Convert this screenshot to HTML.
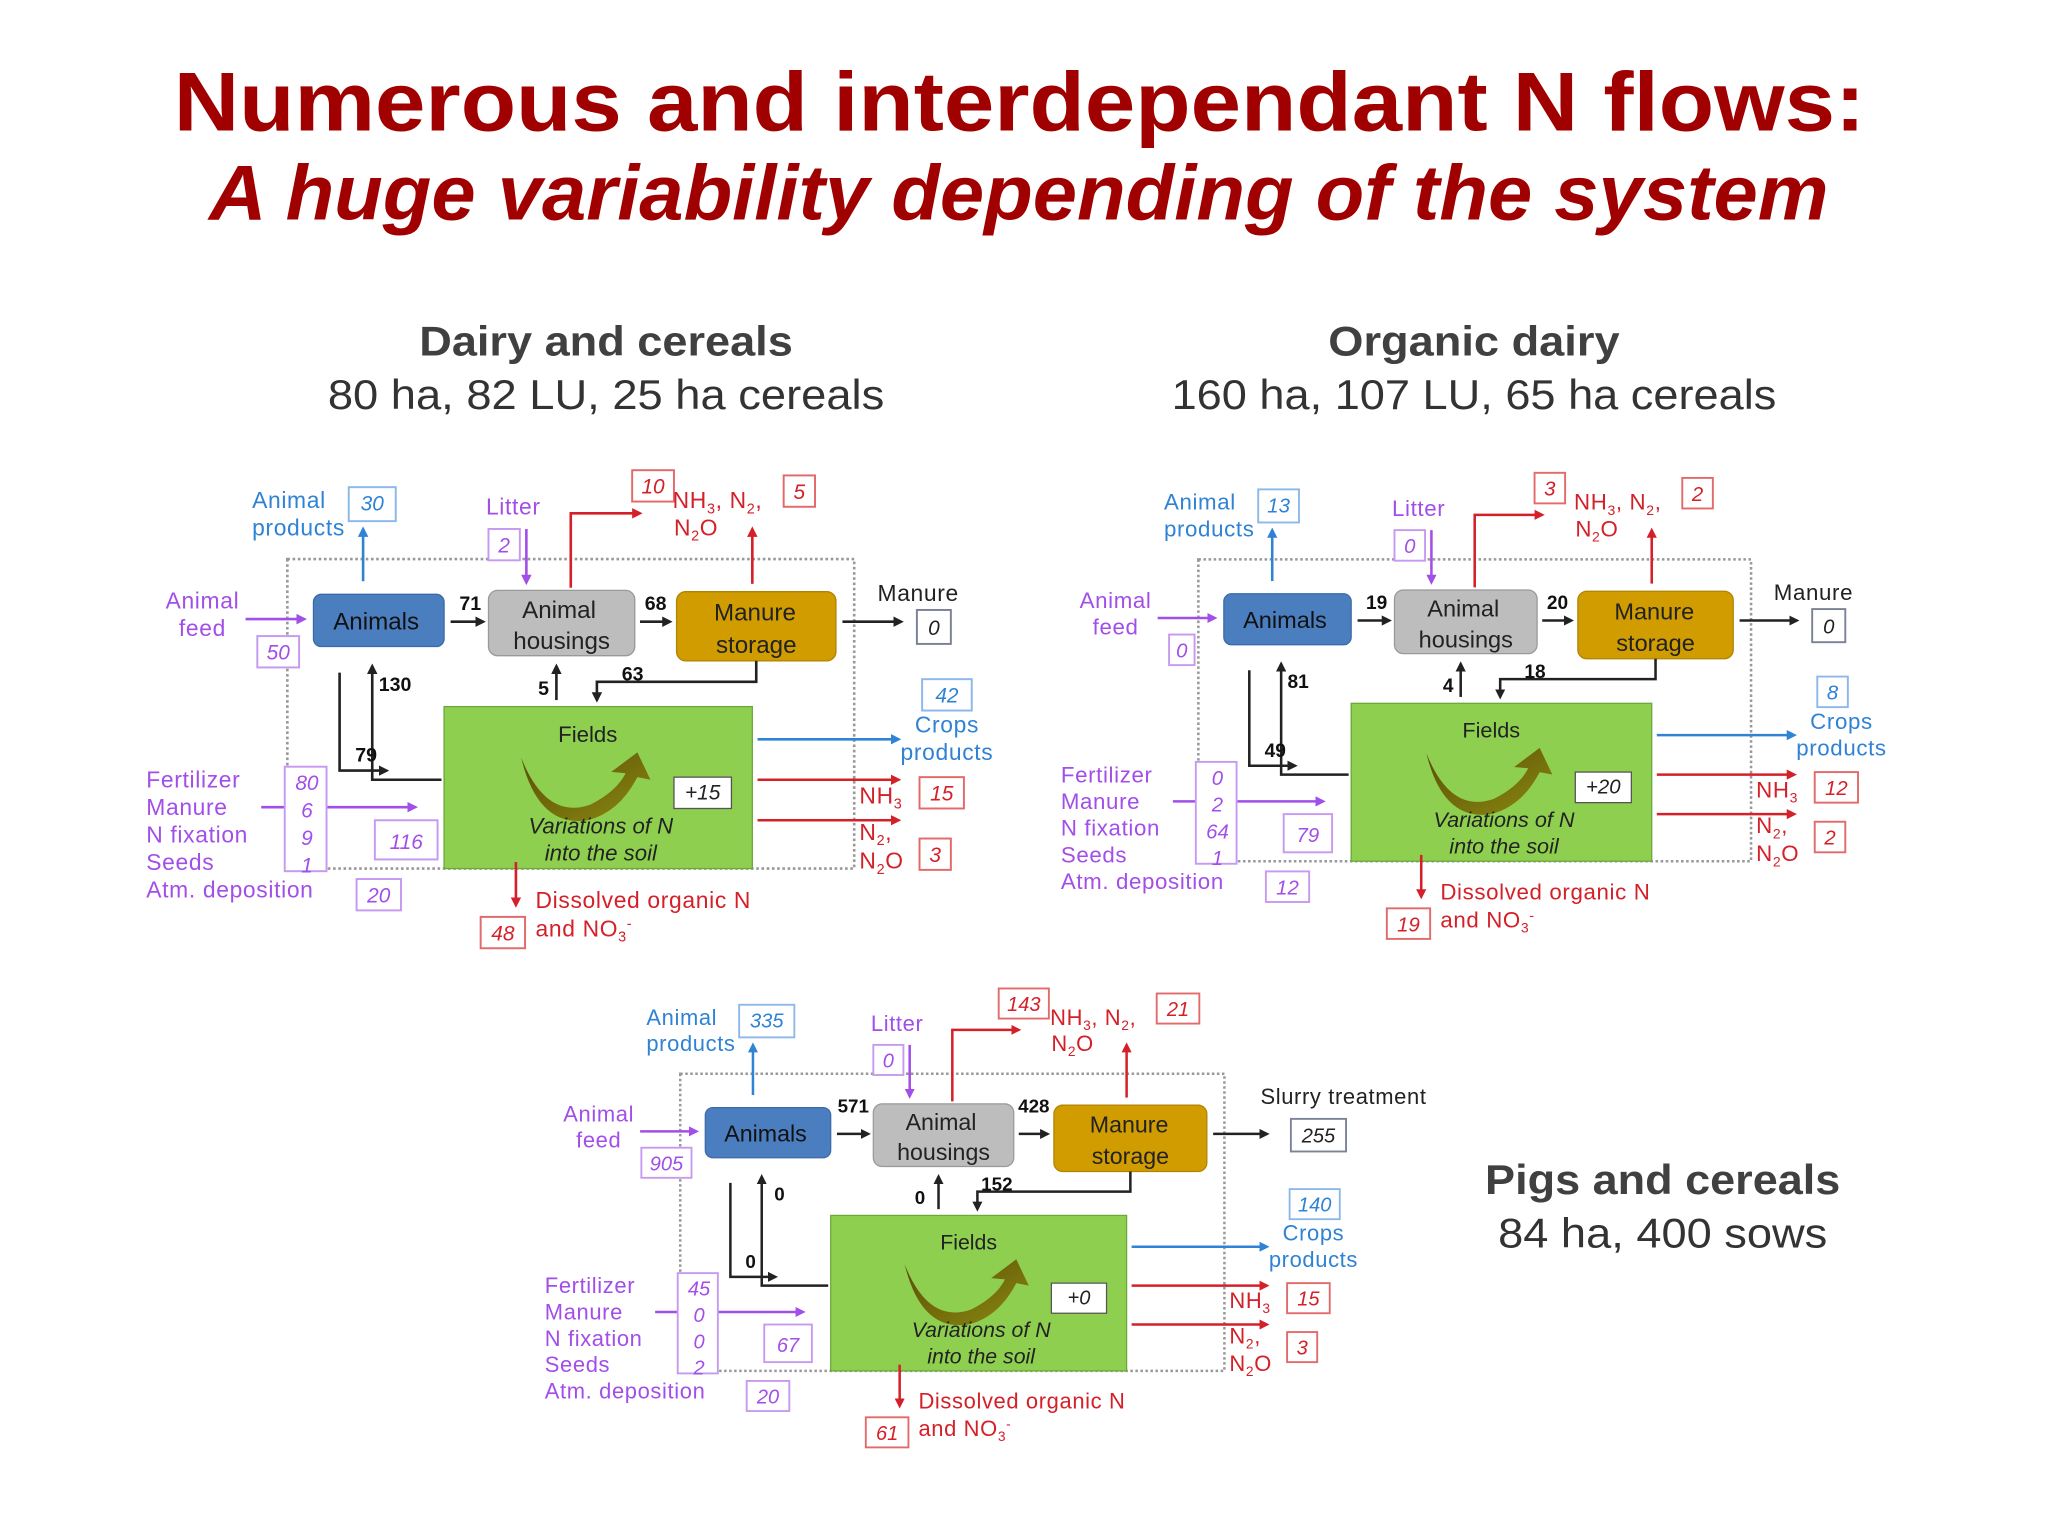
<!DOCTYPE html>
<html><head><meta charset="utf-8"><style>
html,body{margin:0;padding:0;background:#fff;}
svg{display:block;font-family:"Liberation Sans",sans-serif;}
.pu{fill:#a24ee8}.bl{fill:#2f82d4}.rd{fill:#d42028}.bk{fill:#222}
.n{font-style:italic;font-size:16px;text-anchor:middle}
.lb{font-size:17.5px;letter-spacing:0.5px}
.bn{font-weight:bold;font-size:15px;fill:#111}
.bpu{fill:#fff;stroke:#c79af2;stroke-width:1.5}
.bbl{fill:#fff;stroke:#8db8ea;stroke-width:1.5}
.brd{fill:#fff;stroke:#e36a6a;stroke-width:1.5}
.bbk{fill:#fff;stroke:#7c8296;stroke-width:1.5}
</style></head><body>
<svg width="2048" height="1536" viewBox="0 0 1568 1176" xmlns="http://www.w3.org/2000/svg">
<defs>
<marker id="mk" markerWidth="8" markerHeight="8" refX="6" refY="4" orient="auto" markerUnits="userSpaceOnUse"><path d="M0,0 L8,4 L0,8 Z" fill="#222"/></marker>
<marker id="mr" markerWidth="8" markerHeight="8" refX="6" refY="4" orient="auto" markerUnits="userSpaceOnUse"><path d="M0,0 L8,4 L0,8 Z" fill="#d42028"/></marker>
<marker id="mb" markerWidth="8" markerHeight="8" refX="6" refY="4" orient="auto" markerUnits="userSpaceOnUse"><path d="M0,0 L8,4 L0,8 Z" fill="#2f82d4"/></marker>
<marker id="mp" markerWidth="8" markerHeight="8" refX="6" refY="4" orient="auto" markerUnits="userSpaceOnUse"><path d="M0,0 L8,4 L0,8 Z" fill="#a24ee8"/></marker>
<linearGradient id="gg" x1="0" y1="0" x2="1" y2="1"><stop offset="0" stop-color="#5a4a08"/><stop offset="1" stop-color="#8a8a10"/></linearGradient>
</defs>

<text x="133" y="100" textLength="1295" lengthAdjust="spacingAndGlyphs" font-size="64" font-weight="bold" fill="#a00000">Numerous and interdependant N flows:</text>
<text x="160" y="168" textLength="1240" lengthAdjust="spacingAndGlyphs" font-size="60" font-weight="bold" font-style="italic" fill="#a00000">A huge variability depending of the system</text>

<text x="321" y="272" textLength="286" lengthAdjust="spacingAndGlyphs" font-size="32" font-weight="bold" fill="#404040">Dairy and cereals</text>
<text x="251" y="313" textLength="426" lengthAdjust="spacingAndGlyphs" font-size="32" fill="#333">80 ha, 82 LU, 25 ha cereals</text>
<text x="1017" y="272" textLength="223" lengthAdjust="spacingAndGlyphs" font-size="32" font-weight="bold" fill="#404040">Organic dairy</text>
<text x="897" y="313" textLength="463" lengthAdjust="spacingAndGlyphs" font-size="32" fill="#333">160 ha, 107 LU, 65 ha cereals</text>
<text x="1137" y="914" textLength="272" lengthAdjust="spacingAndGlyphs" font-size="32" font-weight="bold" fill="#404040">Pigs and cereals</text>
<text x="1147" y="955" textLength="252" lengthAdjust="spacingAndGlyphs" font-size="32" fill="#333">84 ha, 400 sows</text>

<!-- ========== DIAGRAM 1 ========== -->
<g>
<rect x="220" y="428" width="434" height="237" fill="none" stroke="#999" stroke-width="2" stroke-dasharray="2,2"/>
<rect x="340" y="541" width="236" height="124" fill="#8fcf4f" stroke="#6aa83a" stroke-width="1"/>
<text x="450" y="568" text-anchor="middle" font-size="17" fill="#222">Fields</text>
<path d="M399,580 Q418,628 452,616 Q472,606 479,592 L468,591 L488,576 L498,597 L488,595 Q474,622 450,628 Q412,634 399,580 Z" fill="url(#gg)"/>
<rect x="516" y="595" width="44" height="24" fill="#fff" stroke="#555"/>
<text x="538" y="612" class="n" fill="#222" font-size="14">+15</text>
<text x="460" y="638" text-anchor="middle" font-size="17" font-style="italic" fill="#222">Variations of N</text>
<text x="460" y="659" text-anchor="middle" font-size="17" font-style="italic" fill="#222">into the soil</text>

<rect x="240" y="455" width="100" height="40" rx="6" fill="#4a7ebf" stroke="#3b6aa8"/>
<text x="288" y="482" text-anchor="middle" font-size="18.5" fill="#111">Animals</text>
<rect x="374" y="452" width="112" height="50" rx="7" fill="#bdbdbd" stroke="#999"/>
<text x="428" y="473" text-anchor="middle" font-size="18.5" fill="#222">Animal</text>
<text x="430" y="497" text-anchor="middle" font-size="18.5" fill="#222">housings</text>
<rect x="518" y="453" width="122" height="53" rx="7" fill="#d09c00" stroke="#b08400"/>
<text x="578" y="475" text-anchor="middle" font-size="18.5" fill="#222">Manure</text>
<text x="579" y="500" text-anchor="middle" font-size="18.5" fill="#222">storage</text>

<line x1="345" y1="476" x2="370" y2="476" stroke="#222" stroke-width="2" marker-end="url(#mk)"/>
<text x="360" y="467" text-anchor="middle" class="bn">71</text>
<line x1="490" y1="476" x2="513" y2="476" stroke="#222" stroke-width="2" marker-end="url(#mk)"/>
<text x="502" y="467" text-anchor="middle" class="bn">68</text>
<line x1="645" y1="476" x2="690" y2="476" stroke="#222" stroke-width="2" marker-end="url(#mk)"/>
<text x="703" y="460" text-anchor="middle" class="lb bk">Manure</text>
<rect x="702" y="467" width="26" height="26" class="bbk"/><text x="715" y="486" class="n bk">0</text>

<text x="155" y="466" text-anchor="middle" class="lb pu">Animal</text>
<text x="155" y="487" text-anchor="middle" class="lb pu">feed</text>
<line x1="188" y1="474" x2="233" y2="474" stroke="#a24ee8" stroke-width="2" marker-end="url(#mp)"/>
<rect x="197" y="487" width="32" height="24" class="bpu"/><text x="213" y="505" class="n pu">50</text>

<text x="193" y="389" class="lb bl">Animal</text>
<text x="193" y="410" class="lb bl">products</text>
<rect x="267" y="373" width="36" height="26" class="bbl"/><text x="285" y="391" class="n bl">30</text>
<line x1="278" y1="445" x2="278" y2="405" stroke="#2f82d4" stroke-width="2" marker-end="url(#mb)"/>

<text x="393" y="394" text-anchor="middle" class="lb pu">Litter</text>
<rect x="374" y="405" width="24" height="24" class="bpu"/><text x="386" y="423" class="n pu">2</text>
<line x1="403" y1="405" x2="403" y2="446" stroke="#a24ee8" stroke-width="2" marker-end="url(#mp)"/>

<polyline points="437,450 437,393 490,393" fill="none" stroke="#d42028" stroke-width="2" marker-end="url(#mr)"/>
<rect x="484" y="360" width="32" height="24" class="brd"/><text x="500" y="378" class="n rd">10</text>
<text x="515" y="389" class="lb rd">NH<tspan font-size="11" dy="4">3</tspan><tspan dy="-4">, N</tspan><tspan font-size="11" dy="4">2</tspan><tspan dy="-4">,</tspan></text>
<text x="516" y="410" class="lb rd">N<tspan font-size="11" dy="4">2</tspan><tspan dy="-4">O</tspan></text>
<rect x="600" y="364" width="24" height="24" class="brd"/><text x="612" y="382" class="n rd">5</text>
<line x1="576" y1="447" x2="576" y2="405" stroke="#d42028" stroke-width="2" marker-end="url(#mr)"/>

<polyline points="338,597 285,597 285,510" fill="none" stroke="#222" stroke-width="2" marker-end="url(#mk)"/>
<text x="290" y="529" class="bn">130</text>
<polyline points="260,515 260,590 296,590" fill="none" stroke="#222" stroke-width="2" marker-end="url(#mk)"/>
<text x="272" y="583" class="bn">79</text>
<line x1="426" y1="536" x2="426" y2="510" stroke="#222" stroke-width="2" marker-end="url(#mk)"/>
<text x="412" y="532" class="bn">5</text>
<polyline points="579,506 579,522 457,522 457,536" fill="none" stroke="#222" stroke-width="2" marker-end="url(#mk)"/>
<text x="476" y="521" class="bn">63</text>

<line x1="580" y1="566" x2="688" y2="566" stroke="#2f82d4" stroke-width="2" marker-end="url(#mb)"/>
<rect x="706" y="520" width="38" height="24" class="bbl"/><text x="725" y="538" class="n bl">42</text>
<text x="725" y="561" text-anchor="middle" class="lb bl">Crops</text>
<text x="725" y="582" text-anchor="middle" class="lb bl">products</text>

<line x1="580" y1="597" x2="688" y2="597" stroke="#d42028" stroke-width="2" marker-end="url(#mr)"/>
<text x="658" y="615" class="lb rd">NH<tspan font-size="11" dy="4">3</tspan></text>
<rect x="704" y="595" width="34" height="24" class="brd"/><text x="721" y="613" class="n rd">15</text>
<line x1="580" y1="628" x2="688" y2="628" stroke="#d42028" stroke-width="2" marker-end="url(#mr)"/>
<text x="658" y="643" class="lb rd">N<tspan font-size="11" dy="4">2</tspan><tspan dy="-4">,</tspan></text>
<text x="658" y="665" class="lb rd">N<tspan font-size="11" dy="4">2</tspan><tspan dy="-4">O</tspan></text>
<rect x="704" y="642" width="24" height="24" class="brd"/><text x="716" y="660" class="n rd">3</text>

<line x1="395" y1="660" x2="395" y2="693" stroke="#d42028" stroke-width="2" marker-end="url(#mr)"/>
<text x="410" y="695" class="lb rd">Dissolved organic N</text>
<text x="410" y="717" class="lb rd">and NO<tspan font-size="11" dy="4">3</tspan><tspan font-size="11" dy="-10">-</tspan></text>
<rect x="368" y="702" width="34" height="24" class="brd"/><text x="385" y="720" class="n rd">48</text>

<text x="112" y="603" class="lb pu">Fertilizer</text>
<text x="112" y="624" class="lb pu">Manure</text>
<text x="112" y="645" class="lb pu">N fixation</text>
<text x="112" y="666" class="lb pu">Seeds</text>
<text x="112" y="687" class="lb pu">Atm. deposition</text>
<line x1="200" y1="618" x2="318" y2="618" stroke="#a24ee8" stroke-width="2" marker-end="url(#mp)"/>
<rect x="218" y="587" width="32" height="80" class="bpu"/>
<text x="235" y="605" class="n pu">80</text><text x="235" y="626" class="n pu">6</text><text x="235" y="647" class="n pu">9</text><text x="235" y="668" class="n pu">1</text>
<rect x="287" y="628" width="48" height="30" class="bpu"/><text x="311" y="650" class="n pu" font-size="19">116</text>
<rect x="273" y="673" width="34" height="24" class="bpu"/><text x="290" y="691" class="n pu">20</text>
</g>

<!-- ========== DIAGRAM 2 ========== -->
<g transform="translate(703,11) scale(0.975)">
<rect x="220" y="428" width="434" height="237" fill="none" stroke="#999" stroke-width="2" stroke-dasharray="2,2"/>
<rect x="340" y="541" width="236" height="124" fill="#8fcf4f" stroke="#6aa83a" stroke-width="1"/>
<text x="450" y="568" text-anchor="middle" font-size="17" fill="#222">Fields</text>
<path d="M399,580 Q418,628 452,616 Q472,606 479,592 L468,591 L488,576 L498,597 L488,595 Q474,622 450,628 Q412,634 399,580 Z" fill="url(#gg)"/>
<rect x="516" y="595" width="44" height="24" fill="#fff" stroke="#555"/>
<text x="538" y="612" class="n" fill="#222" font-size="14">+20</text>
<text x="460" y="638" text-anchor="middle" font-size="17" font-style="italic" fill="#222">Variations of N</text>
<text x="460" y="659" text-anchor="middle" font-size="17" font-style="italic" fill="#222">into the soil</text>

<rect x="240" y="455" width="100" height="40" rx="6" fill="#4a7ebf" stroke="#3b6aa8"/>
<text x="288" y="482" text-anchor="middle" font-size="18.5" fill="#111">Animals</text>
<rect x="374" y="452" width="112" height="50" rx="7" fill="#bdbdbd" stroke="#999"/>
<text x="428" y="473" text-anchor="middle" font-size="18.5" fill="#222">Animal</text>
<text x="430" y="497" text-anchor="middle" font-size="18.5" fill="#222">housings</text>
<rect x="518" y="453" width="122" height="53" rx="7" fill="#d09c00" stroke="#b08400"/>
<text x="578" y="475" text-anchor="middle" font-size="18.5" fill="#222">Manure</text>
<text x="579" y="500" text-anchor="middle" font-size="18.5" fill="#222">storage</text>

<line x1="345" y1="476" x2="370" y2="476" stroke="#222" stroke-width="2" marker-end="url(#mk)"/>
<text x="360" y="467" text-anchor="middle" class="bn">19</text>
<line x1="490" y1="476" x2="513" y2="476" stroke="#222" stroke-width="2" marker-end="url(#mk)"/>
<text x="502" y="467" text-anchor="middle" class="bn">20</text>
<line x1="645" y1="476" x2="690" y2="476" stroke="#222" stroke-width="2" marker-end="url(#mk)"/>
<text x="703" y="460" text-anchor="middle" class="lb bk">Manure</text>
<rect x="702" y="467" width="26" height="26" class="bbk"/><text x="715" y="486" class="n bk">0</text>

<text x="155" y="466" text-anchor="middle" class="lb pu">Animal</text>
<text x="155" y="487" text-anchor="middle" class="lb pu">feed</text>
<line x1="188" y1="474" x2="233" y2="474" stroke="#a24ee8" stroke-width="2" marker-end="url(#mp)"/>
<rect x="197" y="487" width="20" height="24" class="bpu"/><text x="207" y="505" class="n pu">0</text>

<text x="193" y="389" class="lb bl">Animal</text>
<text x="193" y="410" class="lb bl">products</text>
<rect x="267" y="373" width="32" height="26" class="bbl"/><text x="283" y="391" class="n bl">13</text>
<line x1="278" y1="445" x2="278" y2="405" stroke="#2f82d4" stroke-width="2" marker-end="url(#mb)"/>

<text x="393" y="394" text-anchor="middle" class="lb pu">Litter</text>
<rect x="374" y="405" width="24" height="24" class="bpu"/><text x="386" y="423" class="n pu">0</text>
<line x1="403" y1="405" x2="403" y2="446" stroke="#a24ee8" stroke-width="2" marker-end="url(#mp)"/>

<polyline points="437,450 437,393 490,393" fill="none" stroke="#d42028" stroke-width="2" marker-end="url(#mr)"/>
<rect x="484" y="360" width="24" height="24" class="brd"/><text x="496" y="378" class="n rd">3</text>
<text x="515" y="389" class="lb rd">NH<tspan font-size="11" dy="4">3</tspan><tspan dy="-4">, N</tspan><tspan font-size="11" dy="4">2</tspan><tspan dy="-4">,</tspan></text>
<text x="516" y="410" class="lb rd">N<tspan font-size="11" dy="4">2</tspan><tspan dy="-4">O</tspan></text>
<rect x="600" y="364" width="24" height="24" class="brd"/><text x="612" y="382" class="n rd">2</text>
<line x1="576" y1="447" x2="576" y2="405" stroke="#d42028" stroke-width="2" marker-end="url(#mr)"/>

<polyline points="338,597 285,597 285,510" fill="none" stroke="#222" stroke-width="2" marker-end="url(#mk)"/>
<text x="290" y="529" class="bn">81</text>
<polyline points="260,515 260,590 296,590" fill="none" stroke="#222" stroke-width="2" marker-end="url(#mk)"/>
<text x="272" y="583" class="bn">49</text>
<line x1="426" y1="536" x2="426" y2="510" stroke="#222" stroke-width="2" marker-end="url(#mk)"/>
<text x="412" y="532" class="bn">4</text>
<polyline points="579,506 579,522 457,522 457,536" fill="none" stroke="#222" stroke-width="2" marker-end="url(#mk)"/>
<text x="476" y="521" class="bn">18</text>

<line x1="580" y1="566" x2="688" y2="566" stroke="#2f82d4" stroke-width="2" marker-end="url(#mb)"/>
<rect x="706" y="520" width="24" height="24" class="bbl"/><text x="718" y="538" class="n bl">8</text>
<text x="725" y="561" text-anchor="middle" class="lb bl">Crops</text>
<text x="725" y="582" text-anchor="middle" class="lb bl">products</text>

<line x1="580" y1="597" x2="688" y2="597" stroke="#d42028" stroke-width="2" marker-end="url(#mr)"/>
<text x="658" y="615" class="lb rd">NH<tspan font-size="11" dy="4">3</tspan></text>
<rect x="704" y="595" width="34" height="24" class="brd"/><text x="721" y="613" class="n rd">12</text>
<line x1="580" y1="628" x2="688" y2="628" stroke="#d42028" stroke-width="2" marker-end="url(#mr)"/>
<text x="658" y="643" class="lb rd">N<tspan font-size="11" dy="4">2</tspan><tspan dy="-4">,</tspan></text>
<text x="658" y="665" class="lb rd">N<tspan font-size="11" dy="4">2</tspan><tspan dy="-4">O</tspan></text>
<rect x="704" y="634" width="24" height="24" class="brd"/><text x="716" y="652" class="n rd">2</text>

<line x1="395" y1="660" x2="395" y2="693" stroke="#d42028" stroke-width="2" marker-end="url(#mr)"/>
<text x="410" y="695" class="lb rd">Dissolved organic N</text>
<text x="410" y="717" class="lb rd">and NO<tspan font-size="11" dy="4">3</tspan><tspan font-size="11" dy="-10">-</tspan></text>
<rect x="368" y="702" width="34" height="24" class="brd"/><text x="385" y="720" class="n rd">19</text>

<text x="112" y="603" class="lb pu">Fertilizer</text>
<text x="112" y="624" class="lb pu">Manure</text>
<text x="112" y="645" class="lb pu">N fixation</text>
<text x="112" y="666" class="lb pu">Seeds</text>
<text x="112" y="687" class="lb pu">Atm. deposition</text>
<line x1="200" y1="618" x2="318" y2="618" stroke="#a24ee8" stroke-width="2" marker-end="url(#mp)"/>
<rect x="218" y="587" width="32" height="80" class="bpu"/>
<text x="235" y="605" class="n pu">0</text><text x="235" y="626" class="n pu">2</text><text x="235" y="647" class="n pu">64</text><text x="235" y="668" class="n pu">1</text>
<rect x="287" y="628" width="38" height="30" class="bpu"/><text x="306" y="650" class="n pu" font-size="19">79</text>
<rect x="273" y="673" width="34" height="24" class="bpu"/><text x="290" y="691" class="n pu">12</text>
</g>

<!-- ========== DIAGRAM 3 ========== -->
<g transform="translate(309.6,411.2) scale(0.96)">
<rect x="220" y="428" width="434" height="237" fill="none" stroke="#999" stroke-width="2" stroke-dasharray="2,2"/>
<rect x="340" y="541" width="236" height="124" fill="#8fcf4f" stroke="#6aa83a" stroke-width="1"/>
<text x="450" y="568" text-anchor="middle" font-size="17" fill="#222">Fields</text>
<path d="M399,580 Q418,628 452,616 Q472,606 479,592 L468,591 L488,576 L498,597 L488,595 Q474,622 450,628 Q412,634 399,580 Z" fill="url(#gg)"/>
<rect x="516" y="595" width="44" height="24" fill="#fff" stroke="#555"/>
<text x="538" y="612" class="n" fill="#222" font-size="14">+0</text>
<text x="460" y="638" text-anchor="middle" font-size="17" font-style="italic" fill="#222">Variations of N</text>
<text x="460" y="659" text-anchor="middle" font-size="17" font-style="italic" fill="#222">into the soil</text>

<rect x="240" y="455" width="100" height="40" rx="6" fill="#4a7ebf" stroke="#3b6aa8"/>
<text x="288" y="482" text-anchor="middle" font-size="18.5" fill="#111">Animals</text>
<rect x="374" y="452" width="112" height="50" rx="7" fill="#bdbdbd" stroke="#999"/>
<text x="428" y="473" text-anchor="middle" font-size="18.5" fill="#222">Animal</text>
<text x="430" y="497" text-anchor="middle" font-size="18.5" fill="#222">housings</text>
<rect x="518" y="453" width="122" height="53" rx="7" fill="#d09c00" stroke="#b08400"/>
<text x="578" y="475" text-anchor="middle" font-size="18.5" fill="#222">Manure</text>
<text x="579" y="500" text-anchor="middle" font-size="18.5" fill="#222">storage</text>

<line x1="345" y1="476" x2="370" y2="476" stroke="#222" stroke-width="2" marker-end="url(#mk)"/>
<text x="358" y="459" text-anchor="middle" class="bn">571</text>
<line x1="490" y1="476" x2="513" y2="476" stroke="#222" stroke-width="2" marker-end="url(#mk)"/>
<text x="502" y="459" text-anchor="middle" class="bn">428</text>
<line x1="645" y1="476" x2="688" y2="476" stroke="#222" stroke-width="2" marker-end="url(#mk)"/>
<text x="749" y="452" text-anchor="middle" class="lb bk">Slurry treatment</text>
<rect x="707" y="464" width="44" height="26" class="bbk"/><text x="729" y="483" class="n bk">255</text>

<text x="155" y="466" text-anchor="middle" class="lb pu">Animal</text>
<text x="155" y="487" text-anchor="middle" class="lb pu">feed</text>
<line x1="188" y1="474" x2="233" y2="474" stroke="#a24ee8" stroke-width="2" marker-end="url(#mp)"/>
<rect x="189" y="487" width="40" height="24" class="bpu"/><text x="209" y="505" class="n pu">905</text>

<text x="193" y="389" class="lb bl">Animal</text>
<text x="193" y="410" class="lb bl">products</text>
<rect x="267" y="373" width="44" height="26" class="bbl"/><text x="289" y="391" class="n bl">335</text>
<line x1="278" y1="445" x2="278" y2="405" stroke="#2f82d4" stroke-width="2" marker-end="url(#mb)"/>

<text x="393" y="394" text-anchor="middle" class="lb pu">Litter</text>
<rect x="374" y="405" width="24" height="24" class="bpu"/><text x="386" y="423" class="n pu">0</text>
<line x1="403" y1="405" x2="403" y2="446" stroke="#a24ee8" stroke-width="2" marker-end="url(#mp)"/>

<polyline points="437,450 437,393 490,393" fill="none" stroke="#d42028" stroke-width="2" marker-end="url(#mr)"/>
<rect x="474" y="360" width="40" height="24" class="brd"/><text x="494" y="378" class="n rd">143</text>
<text x="515" y="389" class="lb rd">NH<tspan font-size="11" dy="4">3</tspan><tspan dy="-4">, N</tspan><tspan font-size="11" dy="4">2</tspan><tspan dy="-4">,</tspan></text>
<text x="516" y="410" class="lb rd">N<tspan font-size="11" dy="4">2</tspan><tspan dy="-4">O</tspan></text>
<rect x="600" y="364" width="34" height="24" class="brd"/><text x="617" y="382" class="n rd">21</text>
<line x1="576" y1="447" x2="576" y2="405" stroke="#d42028" stroke-width="2" marker-end="url(#mr)"/>

<polyline points="338,597 285,597 285,510" fill="none" stroke="#222" stroke-width="2" marker-end="url(#mk)"/>
<text x="295" y="529" class="bn">0</text>
<polyline points="260,515 260,590 296,590" fill="none" stroke="#222" stroke-width="2" marker-end="url(#mk)"/>
<text x="272" y="583" class="bn">0</text>
<line x1="426" y1="536" x2="426" y2="510" stroke="#222" stroke-width="2" marker-end="url(#mk)"/>
<text x="407" y="532" class="bn">0</text>
<polyline points="579,506 579,522 457,522 457,536" fill="none" stroke="#222" stroke-width="2" marker-end="url(#mk)"/>
<text x="460" y="521" class="bn">152</text>

<line x1="580" y1="566" x2="688" y2="566" stroke="#2f82d4" stroke-width="2" marker-end="url(#mb)"/>
<rect x="706" y="520" width="40" height="24" class="bbl"/><text x="726" y="538" class="n bl">140</text>
<text x="725" y="561" text-anchor="middle" class="lb bl">Crops</text>
<text x="725" y="582" text-anchor="middle" class="lb bl">products</text>

<line x1="580" y1="597" x2="688" y2="597" stroke="#d42028" stroke-width="2" marker-end="url(#mr)"/>
<text x="658" y="615" class="lb rd">NH<tspan font-size="11" dy="4">3</tspan></text>
<rect x="704" y="595" width="34" height="24" class="brd"/><text x="721" y="613" class="n rd">15</text>
<line x1="580" y1="628" x2="688" y2="628" stroke="#d42028" stroke-width="2" marker-end="url(#mr)"/>
<text x="658" y="643" class="lb rd">N<tspan font-size="11" dy="4">2</tspan><tspan dy="-4">,</tspan></text>
<text x="658" y="665" class="lb rd">N<tspan font-size="11" dy="4">2</tspan><tspan dy="-4">O</tspan></text>
<rect x="704" y="634" width="24" height="24" class="brd"/><text x="716" y="652" class="n rd">3</text>

<line x1="395" y1="660" x2="395" y2="693" stroke="#d42028" stroke-width="2" marker-end="url(#mr)"/>
<text x="410" y="695" class="lb rd">Dissolved organic N</text>
<text x="410" y="717" class="lb rd">and NO<tspan font-size="11" dy="4">3</tspan><tspan font-size="11" dy="-10">-</tspan></text>
<rect x="368" y="702" width="34" height="24" class="brd"/><text x="385" y="720" class="n rd">61</text>

<text x="112" y="603" class="lb pu">Fertilizer</text>
<text x="112" y="624" class="lb pu">Manure</text>
<text x="112" y="645" class="lb pu">N fixation</text>
<text x="112" y="666" class="lb pu">Seeds</text>
<text x="112" y="687" class="lb pu">Atm. deposition</text>
<line x1="200" y1="618" x2="318" y2="618" stroke="#a24ee8" stroke-width="2" marker-end="url(#mp)"/>
<rect x="218" y="587" width="32" height="80" class="bpu"/>
<text x="235" y="605" class="n pu">45</text><text x="235" y="626" class="n pu">0</text><text x="235" y="647" class="n pu">0</text><text x="235" y="668" class="n pu">2</text>
<rect x="287" y="628" width="38" height="30" class="bpu"/><text x="306" y="650" class="n pu" font-size="19">67</text>
<rect x="273" y="673" width="34" height="24" class="bpu"/><text x="290" y="691" class="n pu">20</text>
</g>
</svg>
</body></html>
